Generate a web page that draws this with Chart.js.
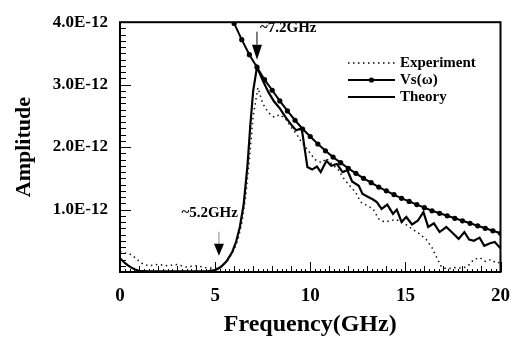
<!DOCTYPE html>
<html>
<head>
<meta charset="utf-8">
<script src="https://cdn.jsdelivr.net/npm/chart.js@4/dist/chart.umd.min.js"></script>
<style>
  body { margin: 0; background: #fff; }
  canvas { display: block; }
</style>
</head>
<body>
<canvas id="chart" width="523" height="339"></canvas>
<script>
// amplitudes are in units of 1E-12, frequencies in GHz
const vsFreq = [5.6, 6.0, 6.4, 6.8, 7.2, 7.6, 8.0, 8.4, 8.8, 9.2, 9.6, 10.0, 10.4, 10.8,
  11.2, 11.6, 12.0, 12.4, 12.8, 13.2, 13.6, 14.0, 14.4, 14.8, 15.2, 15.6, 16.0, 16.4,
  16.8, 17.2, 17.6, 18.0, 18.4, 18.8, 19.2, 19.6, 20.0];
const vsAmp = [4.25, 3.98, 3.72, 3.48, 3.28, 3.08, 2.91, 2.74, 2.58, 2.43, 2.29, 2.17, 2.05, 1.94,
  1.84, 1.75, 1.66, 1.58, 1.50, 1.43, 1.36, 1.30, 1.24, 1.18, 1.13, 1.08, 1.03, 0.98,
  0.94, 0.90, 0.86, 0.82, 0.78, 0.74, 0.70, 0.66, 0.62];

const theoryFreq = [0.0, 0.2, 0.4, 0.6, 0.8, 1.0, 1.5, 2.0, 3.0, 4.0, 4.6, 5.0, 5.3, 5.6,
  5.9, 6.1, 6.3, 6.5, 6.7, 6.85, 7.0, 7.2, 7.5, 7.8, 8.1, 8.4, 8.7, 9.0, 9.25, 9.55,
  9.85, 10.1, 10.35, 10.55, 10.85, 11.1, 11.4, 11.7, 11.95, 12.2, 12.55, 12.75, 13.0,
  13.3, 13.5, 13.75, 14.05, 14.35, 14.55, 14.8, 15.05, 15.35, 15.65, 15.95, 16.2, 16.5,
  16.8, 17.15, 17.5, 17.8, 18.1, 18.35, 18.6, 18.9, 19.15, 19.45, 19.7, 20.0];
const theoryAmp = [0.22, 0.16, 0.11, 0.07, 0.04, 0.02, 0.01, 0.01, 0.01, 0.01, 0.01, 0.03, 0.08, 0.17,
  0.32, 0.48, 0.72, 1.08, 1.7, 2.35, 2.9, 3.28, 3.07, 2.88, 2.73, 2.62, 2.48, 2.36, 2.27, 2.3,
  1.68, 1.64, 1.69, 1.6, 1.78, 1.7, 1.73, 1.6, 1.63, 1.45, 1.38, 1.25, 1.21,
  1.16, 1.12, 1.01, 1.08, 0.93, 1.0, 0.8, 0.88, 0.76, 0.82, 0.96, 0.72, 0.78,
  0.64, 0.72, 0.62, 0.53, 0.64, 0.52, 0.5, 0.55, 0.42, 0.46, 0.48, 0.38];

const expFreq = [0.0, 0.3, 0.6, 0.9, 1.2, 1.5, 2.0, 2.5, 3.0, 3.5, 4.0, 4.5, 5.0, 5.4,
  5.7, 6.0, 6.2, 6.4, 6.6, 6.8, 7.0, 7.25, 7.5, 7.8, 8.1, 8.4, 8.7, 9.0, 9.3, 9.5,
  9.75, 10.0, 10.25, 10.6, 10.85, 11.15, 11.45, 11.7, 12.05, 12.4, 12.65, 12.95, 13.3,
  13.6, 13.9, 14.2, 14.5, 14.85, 15.3, 15.7, 16.1, 16.4, 16.7, 16.9, 17.2, 17.6, 18.0,
  18.3, 18.6, 18.9, 19.2, 19.5, 19.8, 20.0];
const expAmp = [0.33, 0.3, 0.28, 0.2, 0.13, 0.1, 0.12, 0.1, 0.12, 0.08, 0.1, 0.07, 0.06, 0.1,
  0.2, 0.36, 0.52, 0.78, 1.2, 1.8, 2.5, 2.95, 2.7, 2.55, 2.48, 2.52, 2.45, 2.32, 2.2, 2.1,
  2.0, 1.9, 1.8, 1.75, 1.82, 1.72, 1.65, 1.52, 1.39, 1.27, 1.12, 1.07, 1.01,
  0.85, 0.8, 0.82, 0.84, 0.8, 0.7, 0.62, 0.52, 0.39, 0.2, 0.08, 0.05, 0.07, 0.06,
  0.1, 0.2, 0.23, 0.17, 0.2, 0.14, 0.16];

// frequencies pointed out with arrows
const markFreqs = [5.2, 7.2];

const serif = 'Liberation Serif';
const pts = (xs, ys) => xs.map((x, i) => ({ x: x, y: ys[i] }));

const frame = {
  id: 'frame',
  afterDraw(chart) {
    const ctx = chart.ctx;
    const a = chart.chartArea;
    const xs = chart.scales.x, ys = chart.scales.y;
    ctx.save();
    ctx.strokeStyle = '#000';

    // inward tick marks
    ctx.lineWidth = 1;
    ctx.beginPath();
    for (let i = 0; i <= 80; i++) {
      const px = Math.round(xs.getPixelForValue(i * 0.25)) + 0.5;
      const len = i % 20 == 0 ? 10 : (i % 4 == 0 ? 6 : 3);
      ctx.moveTo(px, a.bottom);
      ctx.lineTo(px, a.bottom - len);
    }
    for (let i = 0; i <= 40; i++) {
      const py = Math.round(ys.getPixelForValue(i * 0.1)) + 0.5;
      const len = i % 10 == 0 ? 11 : 6;
      ctx.moveTo(a.left, py);
      ctx.lineTo(a.left + len, py);
    }
    ctx.stroke();

    // box
    ctx.lineWidth = 2;
    ctx.strokeRect(a.left, a.top, a.right - a.left, a.bottom - a.top);

    // arrows
    ctx.font = 'bold 15px "' + serif + '"';
    ctx.fillStyle = '#000';
    ctx.textBaseline = 'middle';
    markFreqs.forEach((f, k) => {
      const px = xs.getPixelForValue(f);
      const high = k == 1;
      const tipY = ys.getPixelForValue(high ? 3.4 : 0.26);
      const headY = tipY - (high ? 15 : 12);
      const stemY = headY - (high ? 13 : 12);
      ctx.strokeStyle = high ? '#000' : '#888';
      ctx.lineWidth = 1;
      ctx.beginPath();
      ctx.moveTo(px, stemY);
      ctx.lineTo(px, headY);
      ctx.stroke();
      ctx.beginPath();
      ctx.moveTo(px - 5, headY);
      ctx.lineTo(px + 5, headY);
      ctx.lineTo(px, tipY);
      ctx.closePath();
      ctx.fill();
      const label = '~' + f.toFixed(1) + 'GHz';
      if (high) {
        ctx.textAlign = 'left';
        ctx.fillText(label, px + 3, stemY - 4);
      } else {
        ctx.textAlign = 'right';
        ctx.fillText(label, px + 19, stemY - 19);
      }
    });

    // legend
    const lx0 = 348, lx1 = 395, tx = 400;
    const rows = [63, 80, 97];
    ctx.textAlign = 'left';
    chart.data.datasets.forEach((ds, i) => {
      const y = rows[i];
      ctx.strokeStyle = '#000';
      ctx.lineWidth = ds.borderWidth;
      ctx.setLineDash(ds.borderDash || []);
      ctx.beginPath();
      ctx.moveTo(lx0, y);
      ctx.lineTo(lx1, y);
      ctx.stroke();
      ctx.setLineDash([]);
      if (ds.pointRadius > 0) {
        ctx.beginPath();
        ctx.arc((lx0 + lx1) / 2, y, ds.pointRadius, 0, Math.PI * 2);
        ctx.fill();
      }
      ctx.fillText(ds.label, tx, y);
    });
    ctx.restore();
  }
};

new Chart(document.getElementById('chart'), {
  type: 'scatter',
  data: {
    datasets: [{
      label: 'Experiment',
      data: pts(expFreq, expAmp),
      showLine: true,
      borderColor: '#111',
      borderWidth: 1.5,
      borderDash: [1.5, 3.5],
      pointRadius: 0
    }, {
      label: 'Vs(\u03c9)',
      data: pts(vsFreq, vsAmp),
      showLine: true,
      borderColor: '#000',
      backgroundColor: '#000',
      borderWidth: 2,
      pointRadius: 2.6,
      pointBorderWidth: 0
    }, {
      label: 'Theory',
      data: pts(theoryFreq, theoryAmp),
      showLine: true,
      borderColor: '#000',
      borderWidth: 2.2,
      pointRadius: 0
    }]
  },
  options: {
    responsive: false,
    animation: false,
    layout: { padding: { left: 0, right: 13, top: 13, bottom: 0 } },
    plugins: { legend: { display: false }, tooltip: { enabled: false } },
    scales: {
      x: {
        type: 'linear', min: 0, max: 20,
        afterFit: (s) => { s.height = 67; },
        grid: { display: false, drawTicks: false },
        border: { display: false },
        ticks: {
          stepSize: 5, maxRotation: 0, padding: 13, color: '#000',
          font: { family: serif, size: 19, weight: 'bold' }
        },
        title: {
          display: true, text: 'Frequency(GHz)', color: '#000',
          padding: { top: 0, bottom: 0 },
          font: { family: serif, size: 24, weight: 'bold' }
        }
      },
      y: {
        min: 0, max: 4,
        afterFit: (s) => { s.width = 120; },
        grid: { display: false, drawTicks: false },
        border: { display: false },
        ticks: {
          stepSize: 1, padding: 12, color: '#000',
          font: { family: serif, size: 17, weight: 'bold' },
          callback: (v) => v == 0 ? '' : v.toFixed(1) + 'E-12'
        },
        title: {
          display: true, text: 'Amplitude', color: '#000',
          padding: { top: 11 },
          font: { family: serif, size: 22, weight: 'bold' }
        }
      }
    }
  },
  plugins: [frame]
});
</script>
</body>
</html>
